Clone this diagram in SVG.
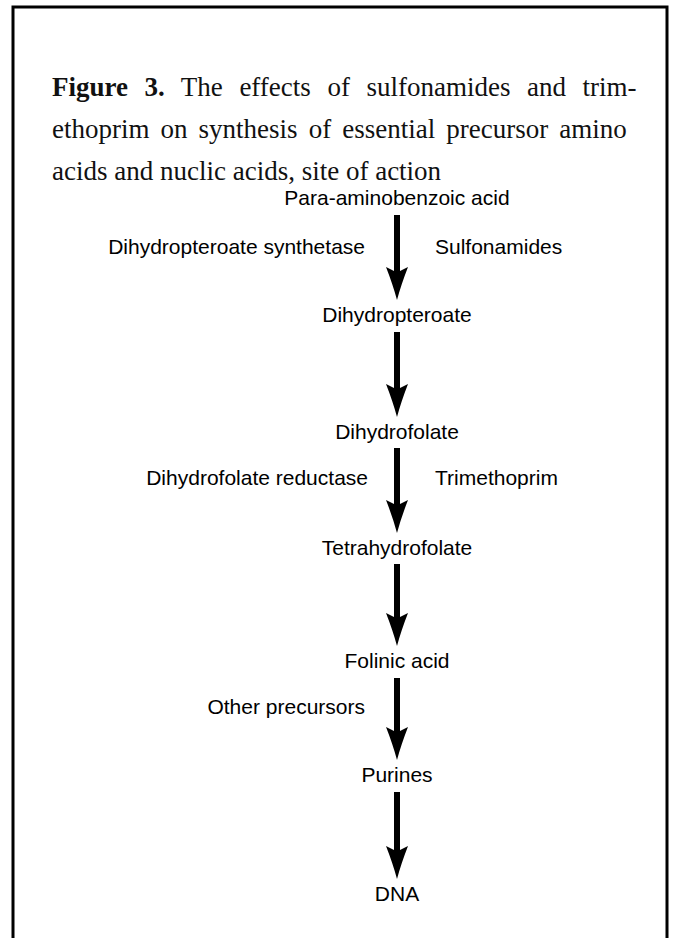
<svg xmlns="http://www.w3.org/2000/svg" width="679" height="938" viewBox="0 0 679 938">
  <style>
    .title { font-family: "Liberation Serif", "Times New Roman", serif; font-size: 27px; fill: #111; }
    .bold { font-weight: bold; }
    .lbl { font-family: "Liberation Sans", Arial, Helvetica, sans-serif; font-size: 21px; fill: #000; }
    .mid { text-anchor: middle; }
    .end { text-anchor: end; }
    .shaft { stroke: #000; stroke-width: 6; fill: none; marker-end: url(#head); }
  </style>
  <defs>
    <marker id="head" markerUnits="userSpaceOnUse" viewBox="0 -12 34 24" markerWidth="34" markerHeight="24" refX="8" refY="0" orient="auto">
      <path d="M34,0 Q19,-4 1,-11 L5,-3 L5,3 L1,11 Q19,4 34,0 Z" fill="#000"/>
    </marker>
  </defs>
  <rect x="0" y="0" width="679" height="938" fill="#fff"/>
  <path d="M13,945 L13,7 L667,7 L667,945" fill="none" stroke="#000" stroke-width="3"/>

  <g id="title">
    <text class="title" x="52" y="96" word-spacing="9.8"><tspan class="bold">Figure 3.</tspan> The effects of sulfonamides and trim-</text>
    <text class="title" x="52" y="138" word-spacing="4.3">ethoprim on synthesis of essential precursor amino</text>
    <text class="title" x="52" y="180">acids and nuclic acids, site of action</text>
  </g>

  <g id="connectors">
    <line class="shaft" x1="397" y1="215" x2="397" y2="274"/>
    <line class="shaft" x1="397" y1="332" x2="397" y2="391"/>
    <line class="shaft" x1="397" y1="448" x2="397" y2="507"/>
    <line class="shaft" x1="397" y1="564" x2="397" y2="620"/>
    <line class="shaft" x1="397" y1="678" x2="397" y2="734"/>
    <line class="shaft" x1="397" y1="792" x2="397" y2="853"/>
  </g>

  <g id="node-paba"><text class="lbl mid" x="397" y="205">Para-aminobenzoic acid</text></g>
  <g id="label-dhps"><text class="lbl end" x="365" y="254">Dihydropteroate synthetase</text></g>
  <g id="label-sulfonamides"><text class="lbl" x="435" y="254">Sulfonamides</text></g>
  <g id="node-dihydropteroate"><text class="lbl mid" x="397" y="322">Dihydropteroate</text></g>
  <g id="node-dihydrofolate"><text class="lbl mid" x="397" y="439">Dihydrofolate</text></g>
  <g id="label-dhfr"><text class="lbl end" x="368" y="485">Dihydrofolate reductase</text></g>
  <g id="label-trimethoprim"><text class="lbl" x="435" y="485">Trimethoprim</text></g>
  <g id="node-tetrahydrofolate"><text class="lbl mid" x="397" y="555">Tetrahydrofolate</text></g>
  <g id="node-folinic"><text class="lbl mid" x="397" y="668">Folinic acid</text></g>
  <g id="label-other"><text class="lbl end" x="365" y="714">Other precursors</text></g>
  <g id="node-purines"><text class="lbl mid" x="397" y="782">Purines</text></g>
  <g id="node-dna"><text class="lbl mid" x="397" y="901">DNA</text></g>
</svg>
